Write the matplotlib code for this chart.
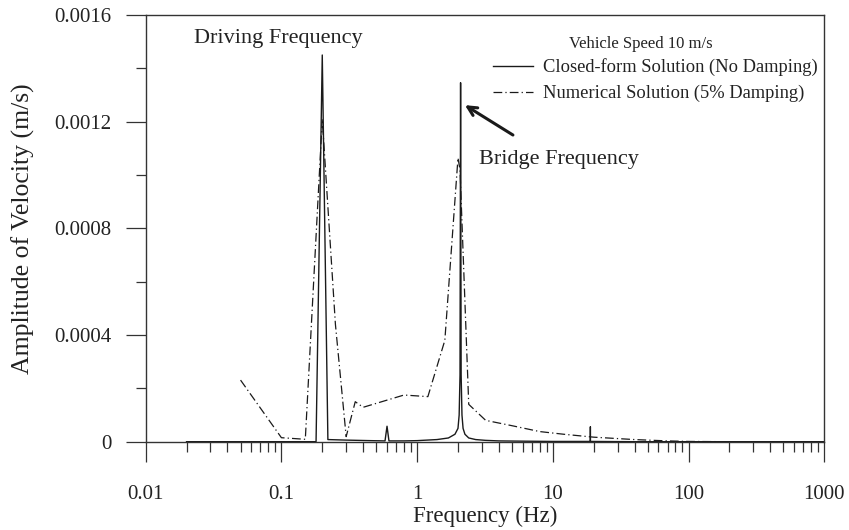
import matplotlib.pyplot as plt
from matplotlib.lines import Line2D
from matplotlib.ticker import FixedLocator, FixedFormatter, LogLocator, NullFormatter, MultipleLocator

plt.rcParams['font.family'] = ['Liberation Serif', 'DejaVu Serif']

# closed-form solution, no damping
f_closed = [0.02, 0.18, 0.2, 0.22, 0.3, 0.45, 0.58, 0.6, 0.62, 0.8, 1.0, 1.4, 1.7,
            1.9, 2.0, 2.04, 2.07, 2.09, 2.11, 2.14, 2.18, 2.25, 2.4, 2.7, 3.2, 4.0,
            6.0, 10.0, 18.88, 18.9, 18.92, 40.0, 1000.0]
a_closed = [0.0, 0.0, 0.00145, 0.000008, 0.000006, 0.000004, 0.000003, 0.000058,
            0.000003, 0.000003, 0.000004, 0.000008, 0.000014, 0.000028, 0.00005,
            0.0001, 0.00025, 0.001346, 0.00025, 0.0001, 0.00005, 0.000028, 0.000014,
            0.000008, 0.000005, 0.000003, 0.000002, 0.000001, 0.000001, 0.000056,
            0.000001, 0.0, 0.0]

# numerical solution, 5% damping
f_num = [0.05, 0.1, 0.15, 0.2, 0.25, 0.3, 0.35, 0.4, 0.8, 1.2, 1.6, 2.0, 2.07,
         2.4, 3.2, 5.0, 8.0, 12.0, 20.0, 40.0, 70.0, 100.0, 200.0]
a_num = [0.000231, 0.000015, 0.000009, 0.00121, 0.00044, 0.000019, 0.00015,
         0.000129, 0.000175, 0.000169, 0.00038, 0.001064, 0.00102, 0.00014,
         0.00008, 0.00006, 0.000038, 0.000028, 0.000017, 0.000008, 0.000003,
         0.000001, 0.0]

x_ticks = [0.01, 0.1, 1, 10, 100, 1000]
x_labels = ['0.01', '0.1', '1', '10', '100', '1000']
y_ticks = [0, 0.0004, 0.0008, 0.0012, 0.0016]
y_labels = ['0', '0.0004', '0.0008', '0.0012', '0.0016']

dashdot = (0, (7, 2.5, 1, 2.5))
ink = '#1a1a1a'

fig = plt.figure(figsize=(8.49, 5.30), dpi=100)
ax = fig.add_axes([0.1716, 0.1666, 0.7993, 0.8051])

ax.plot(f_closed, a_closed, color=ink, lw=1.0, clip_on=False)
ax.plot(f_num, a_num, color=ink, lw=0.9, linestyle=dashdot)

ax.set_xscale('log')
ax.set_xlim(0.01, 1000)
ax.set_ylim(0, 0.0016)

ax.xaxis.set_major_locator(FixedLocator(x_ticks))
ax.xaxis.set_major_formatter(FixedFormatter(x_labels))
ax.xaxis.set_minor_locator(LogLocator(base=10, subs=range(2, 10)))
ax.xaxis.set_minor_formatter(NullFormatter())
ax.yaxis.set_major_locator(FixedLocator(y_ticks))
ax.yaxis.set_major_formatter(FixedFormatter(y_labels))
ax.yaxis.set_minor_locator(MultipleLocator(0.0002))

for s in ax.spines.values():
    s.set_color('#333333')
    s.set_linewidth(1.0)

ax.tick_params(which='major', direction='out', length=14.4, width=0.9,
               color='#333333', labelsize=15, labelcolor='#222222')
ax.tick_params(which='minor', direction='out', length=7.2, width=0.9, color='#333333')
ax.tick_params(axis='x', which='major', pad=17)
ax.tick_params(axis='y', which='major', pad=10)

ax.set_xlabel('Frequency (Hz)', fontsize=16.5, color='#222222', labelpad=1)
ax.set_ylabel('Amplitude of Velocity (m/s)', fontsize=18.5, color='#222222', labelpad=14)

# annotations
ax.text(0.0227, 0.001495, 'Driving Frequency', fontsize=16, color='#222222')
ax.text(2.86, 0.00104, 'Bridge Frequency', fontsize=16, color='#222222')
ax.annotate('', xy=(2.25, 0.001262), xytext=(5.08, 0.00115),
            arrowprops=dict(arrowstyle='->', lw=2.2, color=ink, mutation_scale=16,
                            shrinkA=0, shrinkB=0))

# legend
ax.text(0.7295, 0.9325, 'Vehicle Speed 10 m/s', transform=ax.transAxes,
        ha='center', va='center', fontsize=12, color='#222222')
handles = [Line2D([], [], color=ink, lw=1.0),
           Line2D([], [], color=ink, lw=0.9, linestyle=dashdot)]
labels = ['Closed-form Solution (No Damping)', 'Numerical Solution (5% Damping)']
ax.legend(handles, labels, loc='upper right', bbox_to_anchor=(0.991, 0.898),
          frameon=False, fontsize=13.3, handlelength=2.2, handletextpad=0.55,
          labelspacing=0.45, borderpad=0, borderaxespad=0, labelcolor='#222222')

fig.savefig('out.png', dpi=100)
